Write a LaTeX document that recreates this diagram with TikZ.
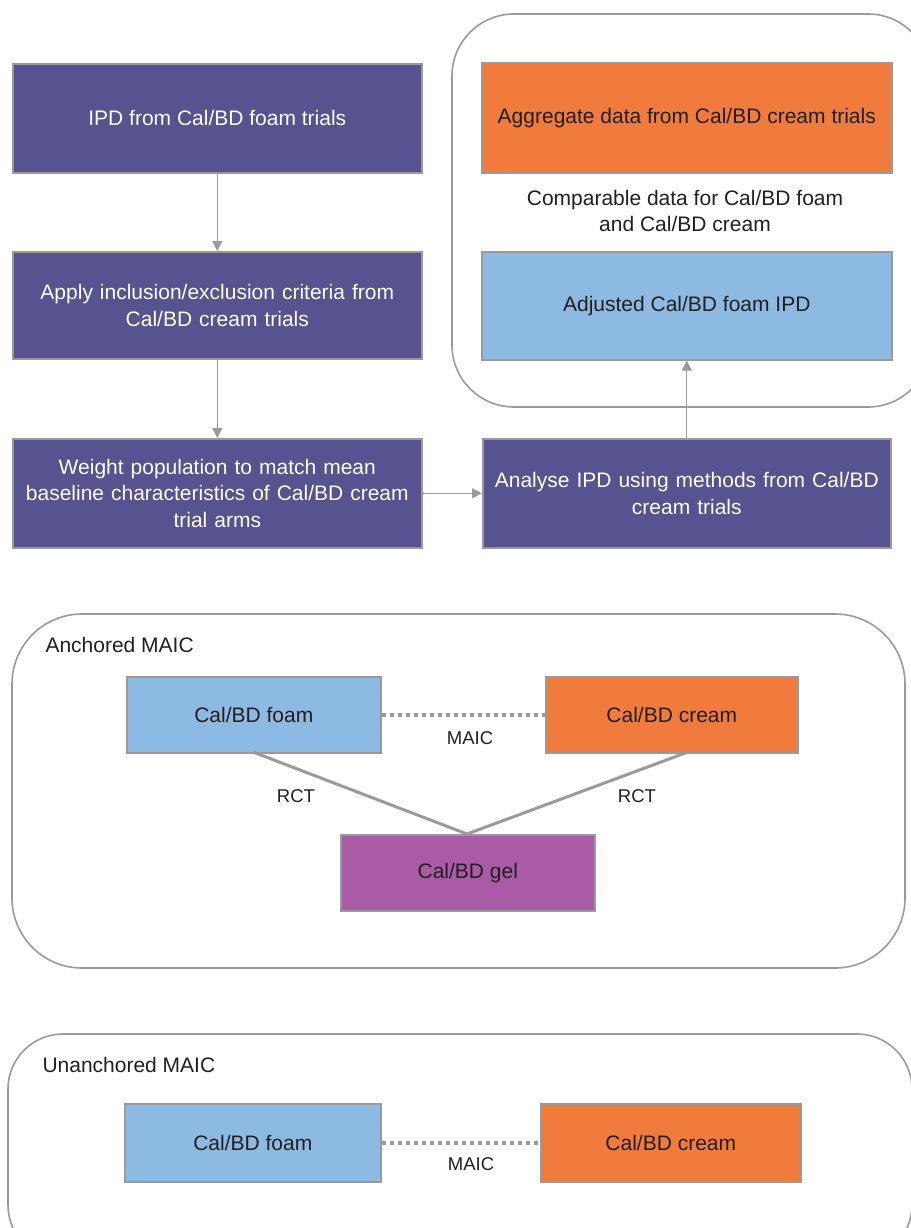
\documentclass[tikz,border=0pt]{standalone}
\usepackage{fontspec}
\setmainfont{Liberation Sans}
\usetikzlibrary{arrows.meta}
\definecolor{pbox}{HTML}{575290}
\definecolor{obox}{HTML}{F17B3D}
\definecolor{bbox}{HTML}{8DBAE3}
\definecolor{gbox}{HTML}{A95BA5}
\definecolor{edge}{HTML}{9A9A9C}
\definecolor{txt}{HTML}{231F20}
\begin{document}
\begin{tikzpicture}[x=1pt,y=-1pt,
  box/.style={draw=edge,line width=1.6pt,inner sep=0pt,anchor=north west,align=center,font=\fontsize{21}{26.5}\selectfont},
  pstep/.style={box,fill=pbox,text=white},
  ostep/.style={box,fill=obox,text=txt},
  bstep/.style={box,fill=bbox,text=txt},
  gstep/.style={box,fill=gbox,text=txt},
  container/.style={draw=edge,line width=1.6pt},
  arr/.style={draw=edge,line width=1.2pt,-{Triangle[length=10pt,width=10pt]}},
  rct/.style={draw=edge,line width=3pt},
  dots/.style={draw=edge,line width=4pt,dash pattern=on 4.5pt off 3.5pt},
  lbl/.style={text=txt,font=\fontsize{21}{26.5}\selectfont},
  slbl/.style={text=txt,font=\fontsize{18.5}{22}\selectfont}
  ]
\useasboundingbox (0,0) rectangle (910,1228);
% containers
\draw[container,rounded corners=62pt] (452,14) rectangle (930,407);
\draw[container,rounded corners=70pt] (12,614) rectangle (905,968);
\draw[container,rounded corners=55pt] (8,1034) rectangle (912,1260);
% top flow
\node[pstep,minimum width=409pt,minimum height=109pt] (ipd) at (12,63) {IPD from Cal/BD foam trials};
\node[pstep,minimum width=409pt,minimum height=107pt,text width=400pt] (apply) at (12,251) {Apply inclusion/exclusion criteria from\\Cal/BD cream trials};
\node[pstep,minimum width=409pt,minimum height=109pt,text width=405pt] (weight) at (12,438) {Weight population to match mean\\baseline characteristics of Cal/BD cream\\trial arms};
\node[pstep,minimum width=408pt,minimum height=109pt,text width=405pt] (analyse) at (482,438) {Analyse IPD using methods from Cal/BD\\cream trials};
\node[ostep,minimum width=410pt,minimum height=110pt] (agg) at (481,62) {Aggregate data from Cal/BD cream trials};
\node[bstep,minimum width=410pt,minimum height=108pt] (adj) at (481,251) {Adjusted Cal/BD foam IPD};
\node[lbl,align=center] (comp) at (685,211) {Comparable data for Cal/BD foam\\and Cal/BD cream};
\draw[arr] (ipd.south) -- (apply.north);
\draw[arr] (apply.south) -- (weight.north);
\draw[arr] (weight.east) -- (analyse.west);
\draw[arr] (analyse.north) -- (adj.south);
% anchored
\node[lbl,anchor=west] (anch) at (42,645) {Anchored MAIC};
\node[bstep,minimum width=254pt,minimum height=76pt] (afoam) at (126,676) {Cal/BD foam};
\node[ostep,minimum width=252pt,minimum height=76pt] (acream) at (545,676) {Cal/BD cream};
\node[gstep,minimum width=254pt,minimum height=76pt] (agel) at (340,834) {Cal/BD gel};
\draw[dots] (afoam.east) -- (acream.west);
\node[slbl] (amaic) at (470,738) {MAIC};
\coordinate (gtop) at (467,834);
\draw[rct] (253,752) -- (gtop);
\draw[rct] (688,752) -- (gtop);
\node[slbl] (rct1) at (296,796) {RCT};
\node[slbl] (rct2) at (637,796) {RCT};
% unanchored
\node[lbl,anchor=west] (unanch) at (39,1065) {Unanchored MAIC};
\node[bstep,minimum width=256pt,minimum height=78pt] (ufoam) at (124,1103) {Cal/BD foam};
\node[ostep,minimum width=260pt,minimum height=78pt] (ucream) at (540,1103) {Cal/BD cream};
\draw[dots] (ufoam.east) -- (ucream.west);
\node[slbl] (umaic) at (471,1164) {MAIC};
\end{tikzpicture}
\end{document}
